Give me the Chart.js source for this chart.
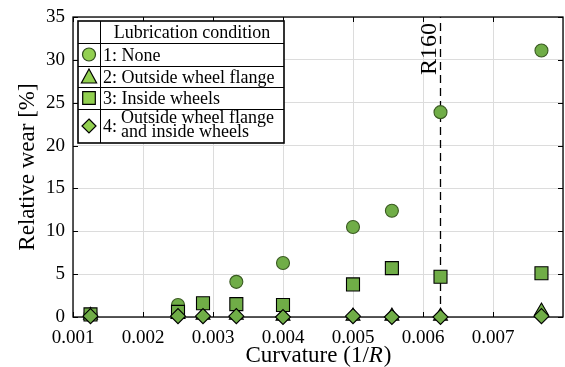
<!DOCTYPE html>
<html>
<head>
<meta charset="utf-8">
<script src="https://cdn.jsdelivr.net/npm/chart.js"></script>
<style>
  html, body { margin: 0; padding: 0; background: #fff; }
  canvas { display: block; }
</style>
</head>
<body>
<canvas id="wear" width="565" height="367"></canvas>
<script>
// curve radii (m), curvature = 1/R
const radii = [800, 400, 350, 300, 250, 200, 180, 160, 130];
const curvature = radii.map((r) => 1 / r);

// relative wear [%] per lubrication condition
const none = [0.3, 1.4, null, 4.1, 6.3, 10.5, 12.4, 23.9, 31.1];
const outsideFlange = [0.2, 0.3, 0.2, 0.2, 0.1, 0.1, 0.1, 0.1, 0.7];
const insideWheels = [0.3, 0.6, 1.6, 1.5, 1.4, 3.8, 5.7, 4.7, 5.1];
const flangeAndInside = [0.1, 0.1, 0.1, 0.1, 0.0, 0.1, 0.0, 0.0, 0.1];

const legendLabels = ["1: None", "2: Outside wheel flange", "3: Inside wheels", "4:"];
const markedRadius = 160;
const xTicks = [0.001, 0.002, 0.003, 0.004, 0.005, 0.006, 0.007];
const yTicks = [0, 5, 10, 15, 20, 25, 30, 35];

const serif = "'Liberation Serif', 'Times New Roman', serif";
const green = "#70ad47";
const lightGreen = "#92d050";

const toPoints = (vals) =>
  vals.map((v, i) => ({ x: curvature[i], y: v })).filter((p) => p.y !== null);

// little marker helper for the legend table
const marker = (ctx, style, x, y, r, fill, stroke) => {
  ctx.save();
  ctx.beginPath();
  if (style === "circle") {
    ctx.arc(x, y, r, 0, Math.PI * 2);
  } else if (style === "triangle") {
    ctx.moveTo(x, y - r);
    ctx.lineTo(x + r * 0.95, y + r * 0.75);
    ctx.lineTo(x - r * 0.95, y + r * 0.75);
    ctx.closePath();
  } else if (style === "rect") {
    ctx.rect(x - r, y - r, 2 * r, 2 * r);
  } else {
    ctx.moveTo(x, y - r);
    ctx.lineTo(x + r, y);
    ctx.lineTo(x, y + r);
    ctx.lineTo(x - r, y);
    ctx.closePath();
  }
  ctx.fillStyle = fill;
  ctx.fill();
  ctx.lineWidth = 1.2;
  ctx.strokeStyle = stroke;
  ctx.stroke();
  ctx.restore();
};

const frame = {
  id: "frame",
  beforeDatasetsDraw(chart) {
    const { ctx, chartArea: a, scales } = chart;
    ctx.save();
    ctx.strokeStyle = "#000";
    ctx.lineWidth = 1;
    ctx.beginPath();
    xTicks.forEach((t) => {
      const px = Math.round(scales.x.getPixelForValue(t)) + 0.5;
      ctx.moveTo(px, a.bottom);
      ctx.lineTo(px, a.bottom - 5);
      ctx.moveTo(px, a.top);
      ctx.lineTo(px, a.top + 5);
    });
    yTicks.forEach((t) => {
      const py = Math.round(scales.y.getPixelForValue(t)) + 0.5;
      ctx.moveTo(a.left, py);
      ctx.lineTo(a.left + 5, py);
      ctx.moveTo(a.right, py);
      ctx.lineTo(a.right - 5, py);
    });
    ctx.stroke();
    ctx.lineWidth = 1.3;
    ctx.strokeRect(a.left, a.top, a.right - a.left, a.bottom - a.top);
    ctx.restore();
  },
  afterDraw(chart) {
    const { ctx, chartArea: a, scales } = chart;
    ctx.save();
    ctx.fillStyle = "#000";

    // axis titles
    ctx.font = "23px " + serif;
    ctx.textBaseline = "alphabetic";
    ctx.save();
    ctx.translate(34, (a.top + a.bottom) / 2);
    ctx.rotate(-Math.PI / 2);
    ctx.textAlign = "center";
    ctx.fillText("Relative wear [%]", 0, 0);
    ctx.restore();

    const p1 = "Curvature (1/", p2 = "R", p3 = ")";
    ctx.font = "23px " + serif;
    const w1 = ctx.measureText(p1).width, w3 = ctx.measureText(p3).width;
    ctx.font = "italic 23px " + serif;
    const w2 = ctx.measureText(p2).width;
    let tx = (a.left + a.right) / 2 - (w1 + w2 + w3) / 2;
    ctx.textAlign = "left";
    ctx.font = "23px " + serif;
    ctx.fillText(p1, tx, 362);
    ctx.font = "italic 23px " + serif;
    ctx.fillText(p2, tx + w1, 362);
    ctx.font = "23px " + serif;
    ctx.fillText(p3, tx + w1 + w2 + 1, 362);

    // R160 label next to the dashed line
    const lx = scales.x.getPixelForValue(1 / markedRadius);
    ctx.save();
    ctx.translate(lx - 5, a.top + 6);
    ctx.rotate(-Math.PI / 2);
    ctx.textAlign = "right";
    ctx.font = "24px " + serif;
    ctx.fillText("R" + markedRadius, 0, 0);
    ctx.restore();

    // legend table
    const L = 78, R = 284, T = 21, B = 143, C = 100;
    const rows = [43, 66, 87, 109];
    ctx.fillStyle = "#fff";
    ctx.fillRect(L, T, R - L, B - T);
    ctx.strokeStyle = "#000";
    ctx.lineWidth = 1;
    ctx.beginPath();
    ctx.moveTo(C + 0.5, T);
    ctx.lineTo(C + 0.5, B);
    rows.forEach((y) => {
      ctx.moveTo(L, y + 0.5);
      ctx.lineTo(R, y + 0.5);
    });
    ctx.stroke();
    ctx.lineWidth = 1.6;
    ctx.strokeRect(L, T, R - L, B - T);

    ctx.fillStyle = "#000";
    ctx.font = "18px " + serif;
    ctx.textAlign = "center";
    ctx.fillText("Lubrication condition", (C + R) / 2, 38);
    ctx.textAlign = "left";
    ctx.fillText(legendLabels[0], 103, 61);
    ctx.fillText(legendLabels[1], 103, 83);
    ctx.fillText(legendLabels[2], 103, 104);
    ctx.fillText(legendLabels[3], 103, 132);
    ctx.fillText("Outside wheel flange", 121, 123);
    ctx.fillText("and inside wheels", 121, 137);

    marker(ctx, "circle", 89, 54.5, 6.5, lightGreen, "#2f4a1c");
    marker(ctx, "triangle", 89, 77, 8, lightGreen, "#000");
    marker(ctx, "rect", 89, 98, 6.3, lightGreen, "#000");
    marker(ctx, "diamond", 89, 126, 7, lightGreen, "#000");
    ctx.restore();
  },
};

const pointSet = (label, vals, style, radius, edge, order) => ({
  label,
  data: toPoints(vals),
  showLine: false,
  pointStyle: style,
  pointRadius: radius,
  pointHoverRadius: radius,
  pointBackgroundColor: green,
  pointBorderColor: edge,
  pointBorderWidth: 1.1,
  clip: false,
  order,
});

new Chart(document.getElementById("wear"), {
  type: "scatter",
  data: {
    datasets: [
      pointSet("1: None", none, "circle", 6.5, "#3a5a22", 3),
      pointSet("2: Outside wheel flange", outsideFlange, "triangle", 8, "#000", 2),
      pointSet("3: Inside wheels", insideWheels, "rect", 9.2, "#000", 1),
      pointSet("4: Outside wheel flange and inside wheels", flangeAndInside, "rectRot", 7.5, "#000", 0),
      {
        label: "R160",
        type: "line",
        data: [
          { x: 1 / markedRadius, y: 0 },
          { x: 1 / markedRadius, y: 35 },
        ],
        borderColor: "#000",
        borderWidth: 1.3,
        borderDash: [8, 5],
        pointRadius: 0,
        fill: false,
        order: 10,
      },
    ],
  },
  options: {
    responsive: false,
    animation: false,
    layout: { autoPadding: false, padding: { top: 17, right: 2, left: 0, bottom: 0 } },
    plugins: {
      legend: { display: false },
      tooltip: { enabled: false },
    },
    scales: {
      x: {
        type: "linear",
        min: 0.001,
        max: 0.008,
        afterFit: (s) => {
          s.height = 50;
          s.paddingLeft = 0;
          s.paddingRight = 0;
        },
        afterBuildTicks: (s) => {
          s.ticks = xTicks.concat([0.008]).map((v) => ({ value: v }));
        },
        ticks: {
          color: "#000",
          padding: 10,
          maxRotation: 0,
          autoSkip: false,
          font: { family: serif, size: 19 },
          callback: (v) => (v > 0.0075 ? "" : v.toFixed(3)),
        },
        grid: { color: "#dcdcdc", drawTicks: false },
        border: { display: false },
      },
      y: {
        min: 0,
        max: 35,
        afterFit: (s) => {
          s.width = 73;
          s.paddingTop = 0;
          s.paddingBottom = 0;
        },
        afterBuildTicks: (s) => {
          s.ticks = yTicks.map((v) => ({ value: v }));
        },
        ticks: {
          color: "#000",
          padding: 8,
          font: { family: serif, size: 19 },
        },
        grid: { color: "#dcdcdc", drawTicks: false },
        border: { display: false },
      },
    },
  },
  plugins: [frame],
});
</script>
</body>
</html>
